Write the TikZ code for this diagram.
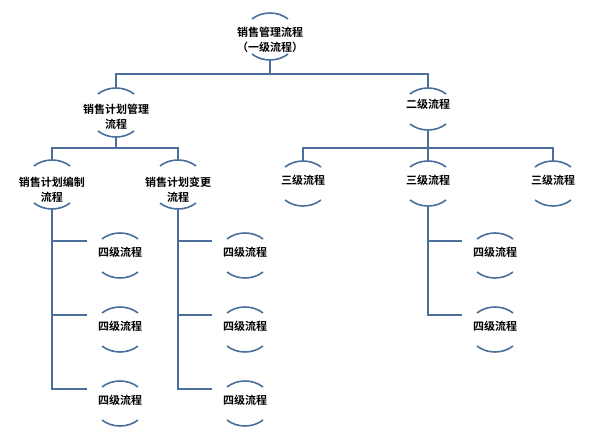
\documentclass[tikz,border=0pt]{standalone}
\usepackage{fontspec}
\newfontfamily\cjk{Noto Sans CJK SC}[BoldFont={Noto Sans CJK SC Bold}]
\usetikzlibrary{calc}
\definecolor{ln}{HTML}{4A6F9C}
\begin{document}
\begin{tikzpicture}[x=1pt,y=-1pt,
  lbl/.style={font=\cjk\bfseries\fontsize{11}{15}\selectfont,align=center,inner sep=0},
  wire/.style={draw=ln,line width=2.2pt},
  arcl/.style={draw=ln,line width=1.6pt}]
\useasboundingbox (0,0) rectangle (606,444);
\newcommand\arcsat[3]{% name, top offset, bottom offset
  \draw[arcl] ($(#1)+(-18,#2+6)$) .. controls ($(#1)+(-8,#2-2)$) and ($(#1)+(8,#2-2)$) .. ($(#1)+(18,#2+6)$);
  \draw[arcl] ($(#1)+(-18,#3-6)$) .. controls ($(#1)+(-8,#3+2)$) and ($(#1)+(8,#3+2)$) .. ($(#1)+(18,#3-6)$);}
\node[lbl] (r) at (270,40) {销售管理流程\\（一级流程）};
\node[lbl] (a) at (116,117) {销售计划管理\\流程};
\node[lbl] (b) at (428,104) {二级流程};
\node[lbl] (a1) at (52,190) {销售计划编制\\流程};
\node[lbl] (a2) at (178,190) {销售计划变更\\流程};
\node[lbl] (b1) at (303,180) {三级流程};
\node[lbl] (b2) at (428,180) {三级流程};
\node[lbl] (b3) at (553,180) {三级流程};
\foreach \n/\x/\y in {c1/120/252,c2/120/326,c3/120/400,d1/245/252,d2/245/326,d3/245/400,e1/495/252,e2/495/326}
  \node[lbl] (\n) at (\x,\y) {四级流程};
\arcsat{r}{-27}{20}
\arcsat{a}{-29}{20}
\arcsat{b}{-16}{26}
\arcsat{a1}{-30}{19}
\arcsat{a2}{-30}{19}
\foreach \n in {b1,b2,b3,c1,c2,c3,d1,d2,d3,e1,e2} {\arcsat{\n}{-19}{26}}
% connectors
\coordinate (h0) at ($(r)+(0,34)$);
\draw[wire] ($(r)+(0,20)$) -- (h0);
\draw[wire] ($(a)+(0,-28)$) |- (h0) -| ($(b)+(0,-15)$);
\coordinate (h1) at ($(a)+(0,31)$);
\draw[wire] ($(a)+(0,20)$) -- (h1);
\draw[wire] ($(a1)+(0,-29)$) |- (h1) -| ($(a2)+(0,-29)$);
\coordinate (h2) at ($(b)+(0,44)$);
\draw[wire] ($(b)+(0,25)$) -- ($(b2)+(0,-18)$);
\draw[wire] ($(b1)+(0,-18)$) |- (h2) -| ($(b3)+(0,-18)$);
\draw[wire] ($(a1)+(0,19)$) |- ($(c3)+(-33,-11)$);
\draw[wire] ($(c1)+(-33,-11)$) -| ($(a1)+(0,19)$);
\draw[wire] ($(c2)+(-33,-11)$) -| ($(a1)+(0,19)$);
\draw[wire] ($(a2)+(0,19)$) |- ($(d3)+(-33,-11)$);
\draw[wire] ($(d1)+(-33,-11)$) -| ($(a2)+(0,19)$);
\draw[wire] ($(d2)+(-33,-11)$) -| ($(a2)+(0,19)$);
\draw[wire] ($(b2)+(0,26)$) |- ($(e2)+(-33,-11)$);
\draw[wire] ($(e1)+(-33,-11)$) -| ($(b2)+(0,26)$);
\end{tikzpicture}
\end{document}
